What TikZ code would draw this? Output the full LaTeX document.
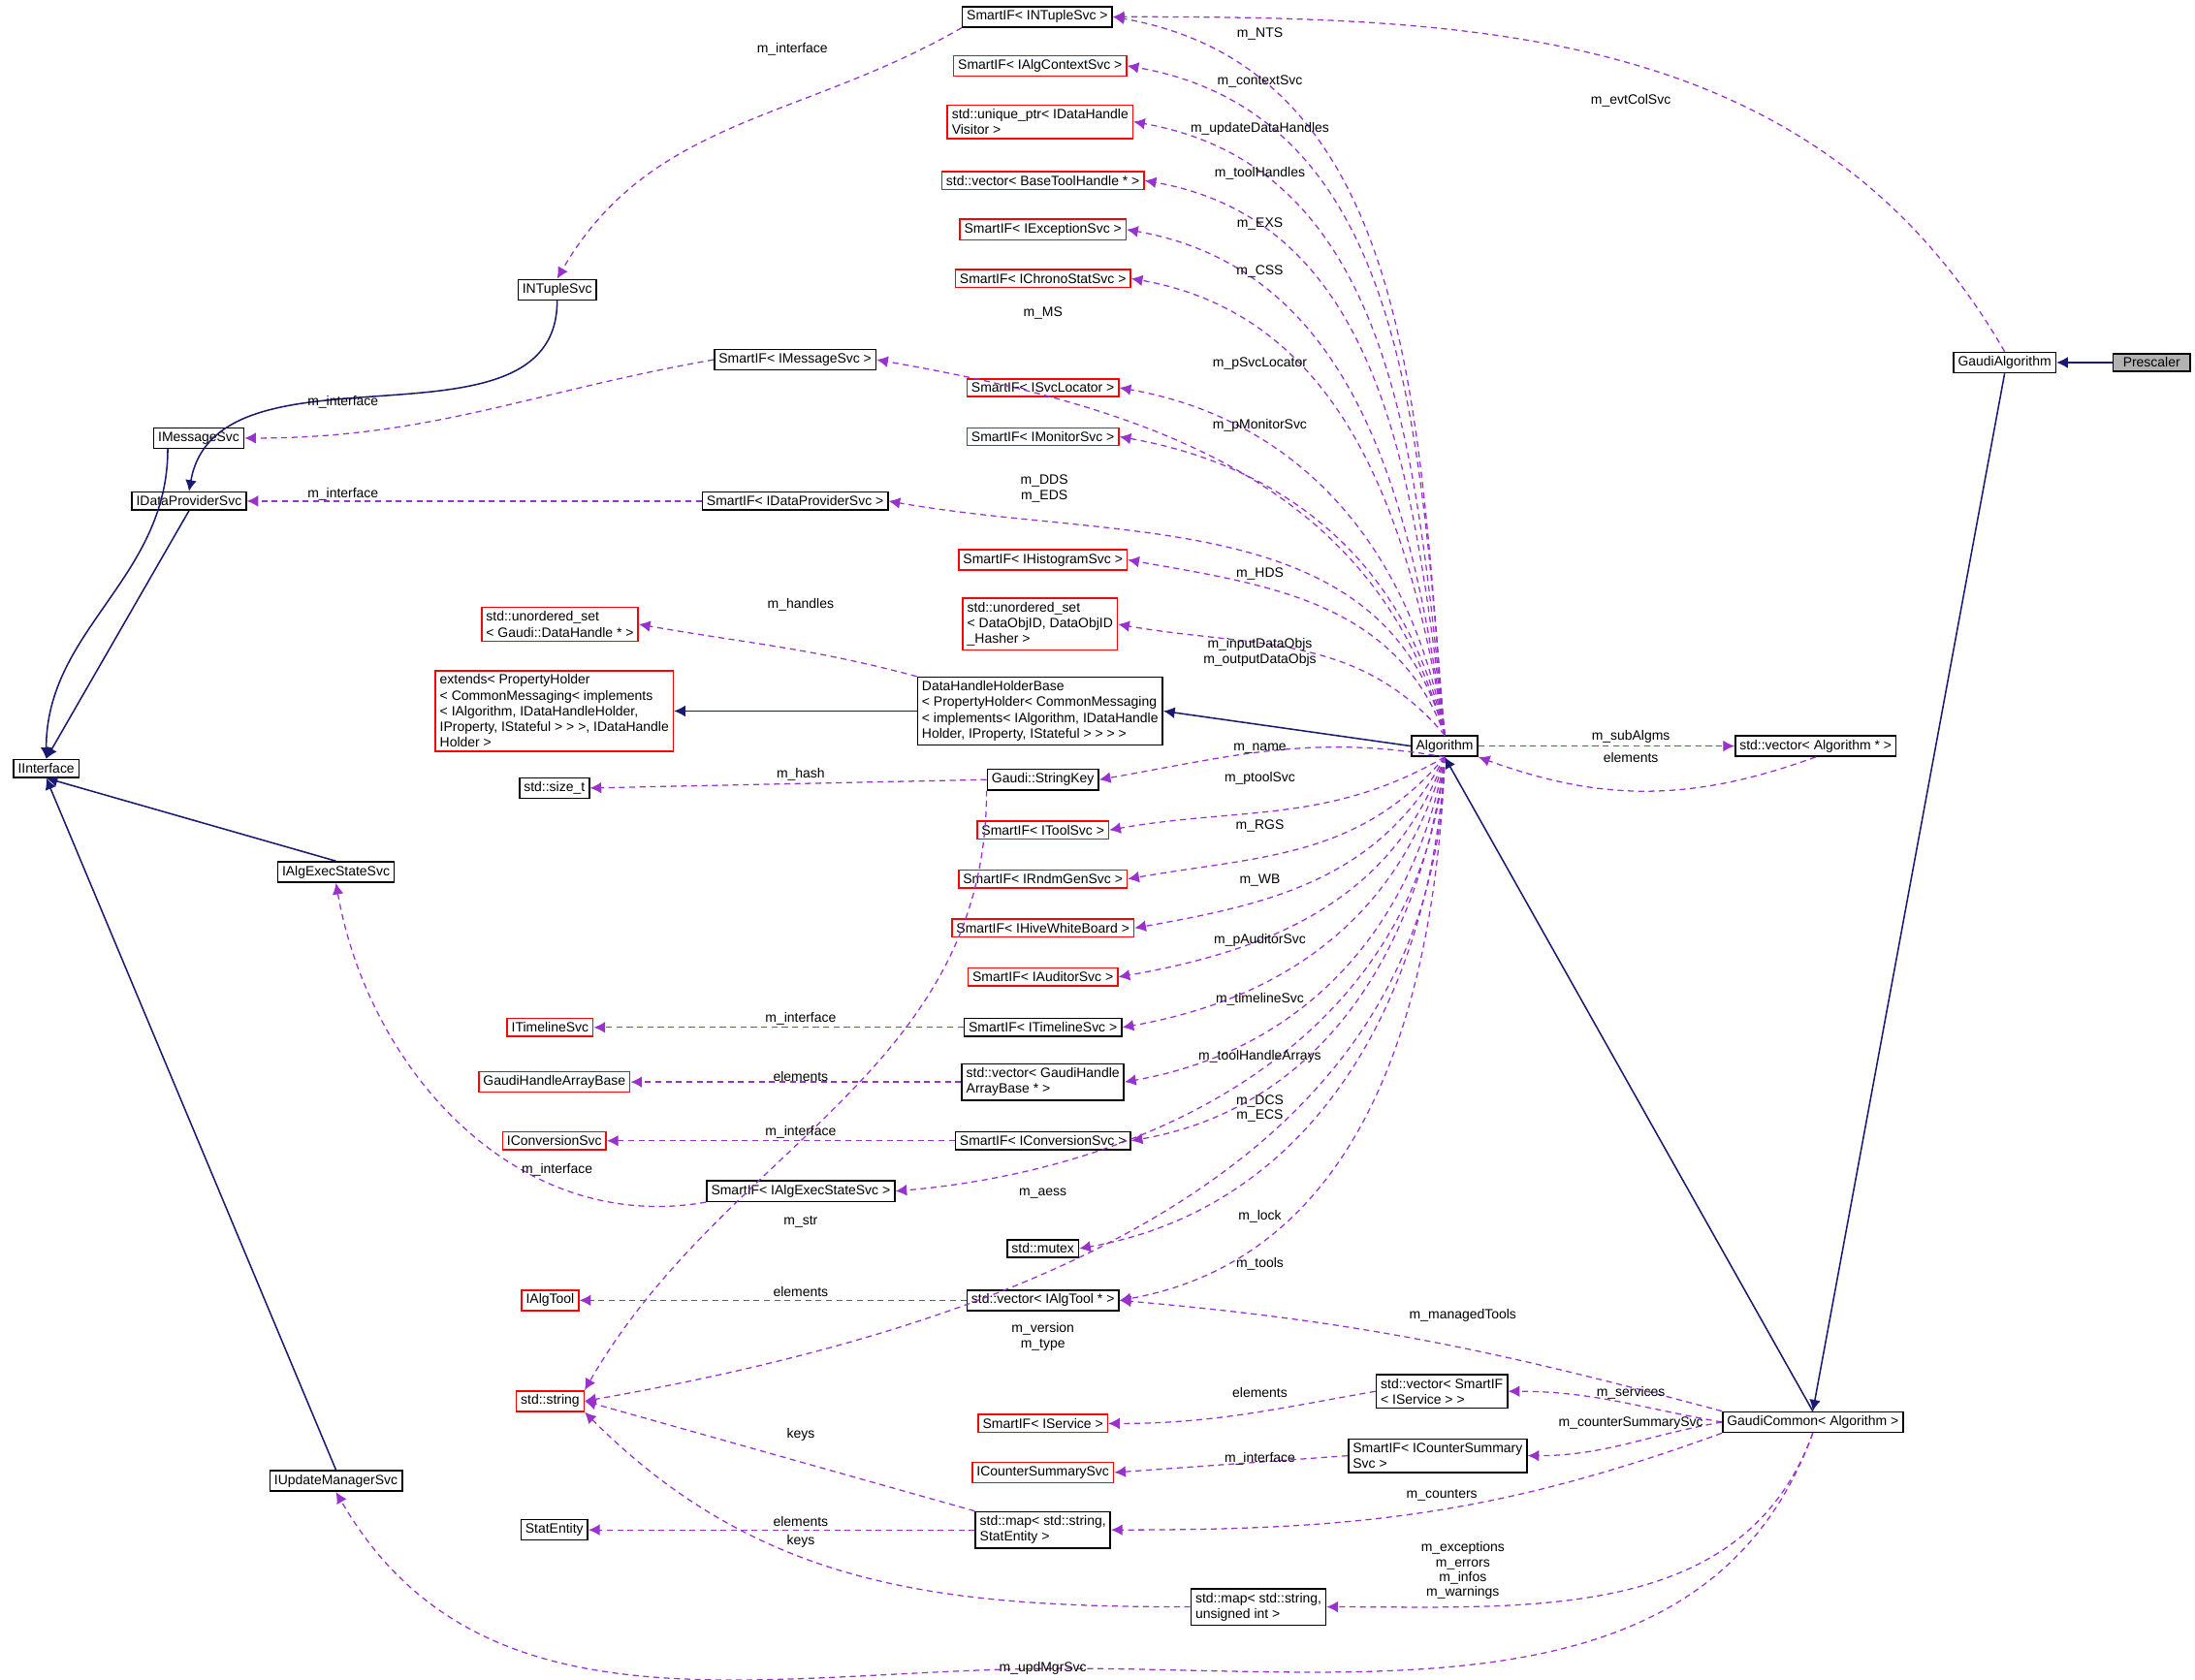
\documentclass[tikz,border=0pt]{standalone}
\usepackage{fontspec}
\setmainfont{Liberation Sans}
\usetikzlibrary{arrows.meta}
\definecolor{mem}{RGB}{153,50,204}
\definecolor{inhc}{RGB}{25,25,112}
\tikzset{
 box/.style={draw=black,fill=white,font=\fontsize{2.75}{3.2}\selectfont,inner xsep=0.9pt,inner ysep=0.8pt,align=left,line width=0.3pt},
 rbox/.style={box,draw=red},
 inh/.style={draw=inhc,line width=0.3pt,-{Latex[length=2.3pt,width=2.3pt]}},
 mm/.style={draw=mem,dash pattern=on 1.2pt off 0.9pt,line width=0.25pt,-{Latex[length=2.3pt,width=2.3pt]}},
 lbl/.style={font=\fontsize{2.75}{3.0}\selectfont,align=center,inner sep=0pt}
}
\begin{document}
\begin{tikzpicture}[x=0.01cm,y=-0.01cm]
\useasboundingbox (0,0) rectangle (1568,1200);
% nodes
\node[box,fill=gray!60,minimum width=0.55cm] (pre) at (1537,259) {Prescaler};
\node[box] (ga) at (1432,259) {GaudiAlgorithm};
\node[box] (snt) at (741,12) {SmartIF< INTupleSvc >};
\node[rbox] (sac) at (743,47) {SmartIF< IAlgContextSvc >};
\node[rbox] (up) at (743,87) {std::unique\_ptr< IDataHandle\\Visitor >};
\node[rbox] (vbt) at (745,129) {std::vector< BaseToolHandle * >};
\node[rbox] (sex) at (745,164) {SmartIF< IExceptionSvc >};
\node[rbox] (scs) at (745,199) {SmartIF< IChronoStatSvc >};
\node[box] (nt) at (398,207) {INTupleSvc};
\node[box] (sms) at (568,257) {SmartIF< IMessageSvc >};
\node[rbox] (ssl) at (745,277) {SmartIF< ISvcLocator >};
\node[rbox] (smo) at (745,312) {SmartIF< IMonitorSvc >};
\node[box] (ms) at (142,313) {IMessageSvc};
\node[box] (dp) at (135,358) {IDataProviderSvc};
\node[box] (sdp) at (568,358) {SmartIF< IDataProviderSvc >};
\node[rbox] (shs) at (745,400) {SmartIF< IHistogramSvc >};
\node[rbox] (us1) at (400,446) {std::unordered\_set\\< Gaudi::DataHandle * >};
\node[rbox] (us2) at (743,446) {std::unordered\_set\\< DataObjID, DataObjID\\\_Hasher >};
\node[rbox] (ext) at (396,508) {extends< PropertyHolder\\< CommonMessaging< implements\\< IAlgorithm, IDataHandleHolder,\\ IProperty, IStateful > > >, IDataHandle\\Holder >};
\node[box] (dhh) at (743,508) {DataHandleHolderBase\\< PropertyHolder< CommonMessaging\\< implements< IAlgorithm, IDataHandle\\Holder, IProperty, IStateful > > > >};
\node[box] (alg) at (1032,533) {Algorithm};
\node[box] (va) at (1297,533) {std::vector< Algorithm * >};
\node[box] (ii) at (33,549) {IInterface};
\node[box] (st) at (396,563) {std::size\_t};
\node[box] (sk) at (745,557) {Gaudi::StringKey};
\node[rbox] (sts) at (745,593) {SmartIF< IToolSvc >};
\node[box] (aes) at (240,623) {IAlgExecStateSvc};
\node[rbox] (srg) at (745,628) {SmartIF< IRndmGenSvc >};
\node[rbox] (swb) at (745,663) {SmartIF< IHiveWhiteBoard >};
\node[rbox] (sau) at (745,698) {SmartIF< IAuditorSvc >};
\node[rbox] (tl) at (393,734) {ITimelineSvc};
\node[box] (stl) at (745,734) {SmartIF< ITimelineSvc >};
\node[rbox] (gha) at (396,773) {GaudiHandleArrayBase};
\node[box] (vgh) at (745,773) {std::vector< GaudiHandle\\ArrayBase * >};
\node[rbox] (cs) at (396,815) {IConversionSvc};
\node[box] (scv) at (745,815) {SmartIF< IConversionSvc >};
\node[box] (sae) at (572,851) {SmartIF< IAlgExecStateSvc >};
\node[box] (mx) at (745,892) {std::mutex};
\node[rbox] (at) at (393,929) {IAlgTool};
\node[box] (vat) at (745,929) {std::vector< IAlgTool * >};
\node[rbox] (str) at (393,1001) {std::string};
\node[box] (vsi) at (1030,994) {std::vector< SmartIF\\< IService > >};
\node[box] (gc) at (1295,1016) {GaudiCommon< Algorithm >};
\node[rbox] (ssv) at (745,1017) {SmartIF< IService >};
\node[box] (scsum) at (1027,1040) {SmartIF< ICounterSummary\\Svc >};
\node[rbox] (csum) at (745,1052) {ICounterSummarySvc};
\node[box] (um) at (240,1058) {IUpdateManagerSvc};
\node[box] (se) at (396,1093) {StatEntity};
\node[box] (mse) at (745,1093) {std::map< std::string,\\StatEntity >};
\node[box] (mui) at (899,1148) {std::map< std::string,\\unsigned int >};
% inheritance
\draw[inh] (pre) -- (ga);
\draw[inh] (ga.south) -- (gc.north);
\draw[inh] (gc.north) -- (alg.south);
\draw[inh] (alg.west) -- (dhh.east);
\draw[inh] (dhh.west) -- (ext.east);
\draw[inh] (nt.south) to[out=-90,in=80] (dp.north);
\draw[inh] (ms.south west) ++(3pt,0) to[out=-90,in=90] (ii.north);
\draw[inh] (dp.south) -- (ii.north);
\draw[inh] (aes.north) -- (ii.south);
\draw[inh] (um.north) -- (ii.south);
% members from Algorithm (upper)
\foreach \t/\o in {snt/95,sac/95,up/96,vbt/97,sex/98,scs/99,ssl/100,smo/102,sdp/105,shs/110,us2/130}{
 \draw[mm] (alg.north) to[out=\o,in=-10] (\t.east);}
\draw[mm] (alg.north) to[out=105,in=-10] (sms.east);
\foreach \t/\o in {sk/170,sts/-150,srg/-130,swb/-118,sau/-110,stl/-105,vgh/-100,scv/-97,mx/-93}{
 \draw[mm] (alg.south) to[out=\o,in=10] (\t.east);}
\draw[mm] (alg.south) to[out=-95,in=5] (sae.east);
\draw[mm] (alg.south) to[out=-92,in=10] (vat.east);
\draw[mm] (alg.south) to[out=-91,in=10] (str.east);
\draw[mm] (alg.east) to[out=0,in=180] (va.west);
\draw[mm] (va.south) to[out=-160,in=-20] (alg.south east);
% others
\draw[mm] (ga.north) to[out=120,in=0] (snt.east);
\draw[mm] (snt.south west) to[out=-150,in=60] (nt.north);
\draw[mm] (sms.west) to[out=190,in=0] (ms.east);
\draw[mm] (sdp.west) -- (dp.east);
\draw[mm] (dhh.north west) to[out=165,in=-10] (us1.east);
\draw[mm] (sk.west) -- (st.east);
\draw[mm] (sk.south west) to[out=-90,in=60] (str.north east);
\draw[mm] (stl.west) -- (tl.east);
\draw[mm] (vgh.west) -- (gha.east);
\draw[mm] (scv.west) -- (cs.east);
\draw[mm] (sae.south west) to[out=-170,in=-80] (aes.south);
\draw[mm] (vat.west) -- (at.east);
\draw[mm] (gc.north west) to[out=165,in=-5] (vat.east);
\draw[mm] (gc.west) to[out=170,in=0] (vsi.east);
\draw[mm] (vsi.west) to[out=190,in=0] (ssv.east);
\draw[mm] (gc.west) to[out=190,in=0] (scsum.east);
\draw[mm] (scsum.west) -- (csum.east);
\draw[mm] (gc.south west) to[out=-160,in=0] (mse.east);
\draw[mm] (mse.north west) -- (str.east);
\draw[mm] (mse.west) -- (se.east);
\draw[mm] (mui.west) to[out=180,in=-45] (str.south east);
\draw[mm] (gc.south) to[out=-110,in=0] (mui.east);
\draw[mm] (gc.south) to[out=-110,in=0] (760,1192) to[out=180,in=-60] (um.south);
% labels
\node[lbl] at (1165,72) {m\_evtColSvc};
\node[lbl] at (566,35) {m\_interface};
\node[lbl] at (900,24) {m\_NTS};
\node[lbl] at (900,58) {m\_contextSvc};
\node[lbl] at (900,92) {m\_updateDataHandles};
\node[lbl] at (900,124) {m\_toolHandles};
\node[lbl] at (900,160) {m\_EXS};
\node[lbl] at (900,194) {m\_CSS};
\node[lbl] at (745,224) {m\_MS};
\node[lbl] at (900,260) {m\_pSvcLocator};
\node[lbl] at (900,304) {m\_pMonitorSvc};
\node[lbl] at (746,349) {m\_DDS\\m\_EDS};
\node[lbl] at (900,410) {m\_HDS};
\node[lbl] at (900,466) {m\_inputDataObjs\\m\_outputDataObjs};
\node[lbl] at (900,535) {m\_name};
\node[lbl] at (900,556) {m\_ptoolSvc};
\node[lbl] at (900,590) {m\_RGS};
\node[lbl] at (900,629) {m\_WB};
\node[lbl] at (900,672) {m\_pAuditorSvc};
\node[lbl] at (900,714) {m\_timelineSvc};
\node[lbl] at (900,755) {m\_toolHandleArrays};
\node[lbl] at (900,792) {m\_DCS\\m\_ECS};
\node[lbl] at (745,853) {m\_aess};
\node[lbl] at (900,869) {m\_lock};
\node[lbl] at (900,903) {m\_tools};
\node[lbl] at (745,955) {m\_version\\m\_type};
\node[lbl] at (1165,526) {m\_subAlgms};
\node[lbl] at (1165,541) {elements};
\node[lbl] at (245,287) {m\_interface};
\node[lbl] at (245,353) {m\_interface};
\node[lbl] at (572,432) {m\_handles};
\node[lbl] at (572,553) {m\_hash};
\node[lbl] at (572,873) {m\_str};
\node[lbl] at (572,728) {m\_interface};
\node[lbl] at (572,769) {elements};
\node[lbl] at (572,809) {m\_interface};
\node[lbl] at (398,836) {m\_interface};
\node[lbl] at (572,923) {elements};
\node[lbl] at (1045,940) {m\_managedTools};
\node[lbl] at (1165,995) {m\_services};
\node[lbl] at (900,995) {elements};
\node[lbl] at (1165,1017) {m\_counterSummarySvc};
\node[lbl] at (900,1042) {m\_interface};
\node[lbl] at (1030,1068) {m\_counters};
\node[lbl] at (572,1025) {keys};
\node[lbl] at (572,1087) {elements};
\node[lbl] at (572,1101) {keys};
\node[lbl] at (1045,1122) {m\_exceptions\\m\_errors\\m\_infos\\m\_warnings};
\node[lbl] at (745,1192) {m\_updMgrSvc};
\end{tikzpicture}
\end{document}
